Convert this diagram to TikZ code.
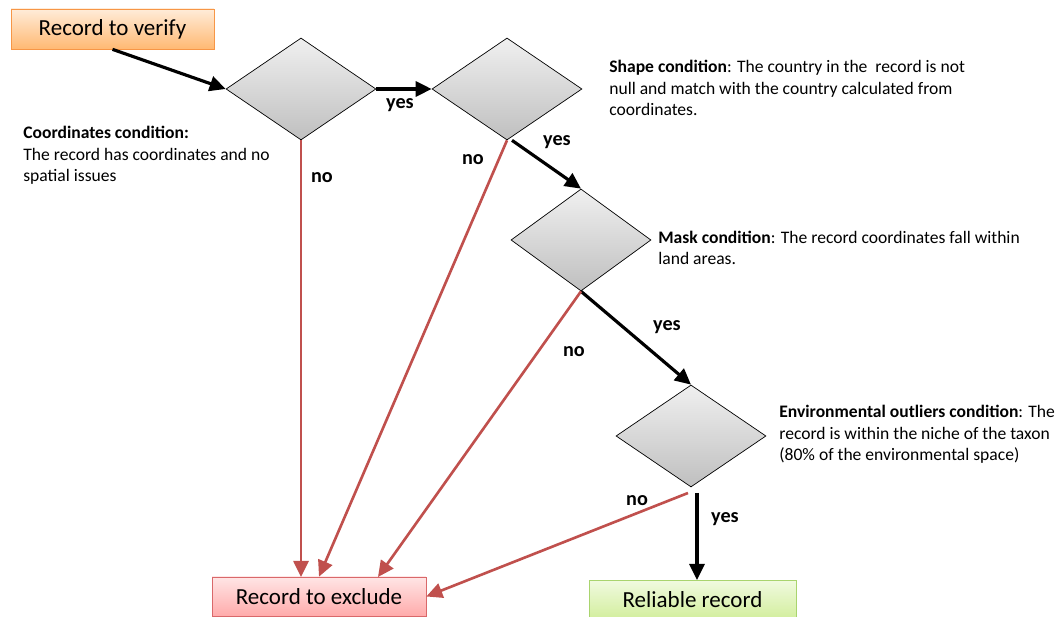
\documentclass[tikz,border=0pt]{standalone}
\usepackage{fontspec}
\setmainfont{Carlito}
\usetikzlibrary{arrows.meta,shapes.geometric}
\definecolor{noRed}{HTML}{C0504D}
\definecolor{orgEdge}{HTML}{F79646}
\definecolor{redEdge}{HTML}{D9686A}
\definecolor{grnEdge}{HTML}{A9D46E}
\definecolor{grnTop}{HTML}{F0FADF}
\definecolor{grnBot}{HTML}{D2EE9C}
\tikzset{
  cond/.style={diamond,draw=black,thin,top color=gray!12,bottom color=gray!50,inner sep=0pt,
               minimum width=3cm,minimum height=2.04cm},                 % decision
  startbox/.style={draw=orgEdge,top color=orange!15,bottom color=orange!55!white,
               minimum width=4.06cm,minimum height=0.8cm,font=\fontsize{13.1}{15}\selectfont},
  exclbox/.style={draw=redEdge,top color=red!10,bottom color=red!33,
               minimum width=4.28cm,minimum height=0.78cm,font=\fontsize{13.1}{15}\selectfont},
  okbox/.style={draw=grnEdge,top color=grnTop,bottom color=grnBot,
               minimum width=4.14cm,minimum height=0.78cm,font=\fontsize{13.1}{15}\selectfont},
  yesarr/.style={-{Triangle[length=3.2mm,width=3mm]},black,line width=1.8pt},
  noarr/.style={-{Triangle[length=3.2mm,width=3mm]},noRed,line width=1.5pt},
  lbl/.style={font=\fontsize{11.5}{14}\selectfont\bfseries,inner sep=0pt},
  note/.style={align=left,inner sep=0pt,font=\fontsize{10}{12.5}\selectfont},
}

\begin{document}
\begin{tikzpicture}[x=0.02cm,y=-0.02cm]
  \useasboundingbox (0,0) rectangle (1063,617);

  % boxes
  \node[startbox] (verify) at (112.5,29) {Record to verify};
  \node[exclbox] (exclude) at (319,596.5) {Record to exclude};
  \node[okbox] (reliable) at (692.5,600) {Reliable record};

  % conditions
  \node[cond] (coord) at (301,89) {};
  \node[cond] (shape) at (507,89) {};
  \node[cond,minimum width=2.8cm] (mask) at (581,240) {};
  \node[cond] (envir) at (691,436) {};

  % notes (base = last line)
  \node[note,anchor=base west] (coordtxt) at (23,182)
    {\textbf{Coordinates condition:}\\The record has coordinates and no\\spatial issues};
  \node[note,anchor=base west] (shapetxt) at (609,116)
    {\textbf{Shape condition}: The country in the \ record is not\\null and match with the country calculated from\\coordinates.};
  \node[note,anchor=base west] (masktxt) at (658,265)
    {\textbf{Mask condition}: The record coordinates fall within\\land areas.};
  \node[note,anchor=base west] (envirtxt) at (779,461)
    {\textbf{Environmental outliers condition}: The\\record is within the niche of the taxon\\(80\% of the environmental space)};

  % yes path
  \coordinate (d4yes) at (697,493);
  \coordinate (okin) at (697,580);
  \draw[yesarr] (verify.south) -- (coord.west);
  \draw[yesarr] (coord.east) -- (shape.west);
  \draw[yesarr] ([xshift=0.1cm]shape.south) -- (mask.north);
  \draw[yesarr] (mask.south) -- (envir.north);
  \draw[yesarr] (d4yes) -- (okin);

  % no path
  \coordinate (in1) at (301,577);
  \coordinate (in3) at (378,577);
  \coordinate (d4no) at (688,493);
  \draw[noarr] (coord.south) -- (in1);
  \draw[noarr] (shape.south) -- (exclude.north);
  \draw[noarr] (mask.south) -- (in3);
  \draw[noarr] (d4no) -- (exclude.east);

  % labels
  \node[lbl] (yes1) at (400,105) {yes};
  \node[lbl] (yes2) at (557,142) {yes};
  \node[lbl] (yes3) at (667,327) {yes};
  \node[lbl] (yes4) at (725,519) {yes};
  \node[lbl] (no1) at (322,178) {no};
  \node[lbl] (no2) at (473,160) {no};
  \node[lbl] (no3) at (574,352) {no};
  \node[lbl] (no4) at (637,501) {no};
\end{tikzpicture}
\end{document}
